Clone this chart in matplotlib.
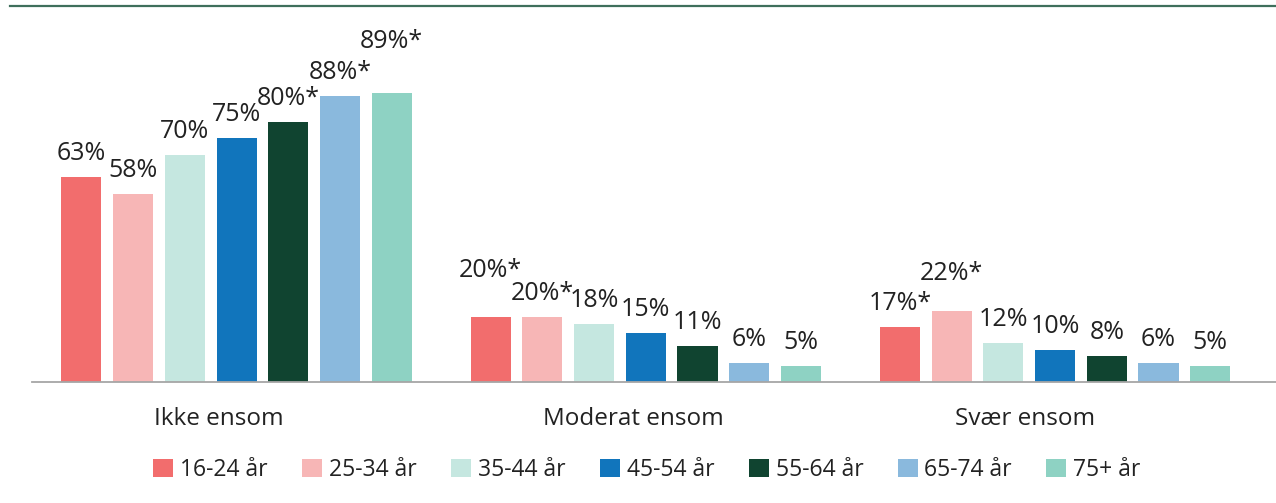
import matplotlib
matplotlib.use("Agg")
import matplotlib.pyplot as plt
from matplotlib.lines import Line2D
from matplotlib.patches import Patch
import numpy as np

plt.rcParams["font.family"] = ["Open Sans", "DejaVu Sans"]

categories = ["Ikke ensom", "Moderat ensom", "Svær ensom"]
age_groups = ["16-24 år", "25-34 år", "35-44 år", "45-54 år", "55-64 år", "65-74 år", "75+ år"]
# values per age group, one entry per category
v_16_24 = [63, 20, 17]
v_25_34 = [58, 20, 22]
v_35_44 = [70, 18, 12]
v_45_54 = [75, 15, 10]
v_55_64 = [80, 11, 8]
v_65_74 = [88, 6, 6]
v_75p = [89, 5, 5]
# significance marks (*)
star_16_24 = [False, True, True]
star_25_34 = [False, True, True]
star_35_44 = [False, False, False]
star_45_54 = [False, False, False]
star_55_64 = [True, False, False]
star_65_74 = [True, False, False]
star_75p = [True, False, False]

series = [v_16_24, v_25_34, v_35_44, v_45_54, v_55_64, v_65_74, v_75p]
stars = [star_16_24, star_25_34, star_35_44, star_45_54, star_55_64, star_65_74, star_75p]
colors = ["#f26d6d", "#f7b6b6", "#c5e7e0", "#1175bc", "#104430", "#8ab9dd", "#8ed2c3"]

# extra lift (px) for labels pushed up to avoid overlapping neighbours
extra_lift = {(6, 0): 28, (0, 1): 23, (1, 2): 14}
# category labels sit a bit left of the group centre in the original (px)
cat_dx = [-18, -12, -30]

W, H = 1276, 503
fig = plt.figure(figsize=(W / 100, H / 100), dpi=100)
ax = fig.add_axes([32 / W, (H - 382) / H, (1276 - 32) / W, (382 - 57.3) / H])

x = np.arange(len(categories))
pitch, bw = 0.1264, 0.098
for j, (vals, st, c) in enumerate(zip(series, stars, colors)):
    xs = x + (j - 3) * pitch
    ax.bar(xs, vals, width=bw, color=c, edgecolor="none")
    for i, (xv, v, s) in enumerate(zip(xs, vals, st)):
        lift = 17 + extra_lift.get((j, i), 0)
        ax.annotate(f"{v}%" + ("*" if s else ""), (xv, v), xytext=(0, lift * 0.72),
                    textcoords="offset points", ha="center", va="baseline",
                    fontsize=18, color="#222222")

ax.set_xlim(-0.5, 2.54)
ax.set_ylim(0, 100)
ax.set_yticks([])
ax.set_xticks([])
for xi, name, dx in zip(x, categories, cat_dx):
    ax.annotate(name, (xi, 0), xytext=(dx * 0.72, -25 * 0.72), textcoords="offset points",
                ha="center", va="top", fontsize=17.5, color="#222222", annotation_clip=False)
for s in ["top", "left", "right"]:
    ax.spines[s].set_visible(False)
ax.spines["bottom"].set_color("#a6a6a6")
ax.spines["bottom"].set_linewidth(1.3)

fig.add_artist(Line2D([10 / W, 1.0], [1 - 5.5 / H] * 2, color="#3f6f5c", lw=1.6))

handles = [Patch(facecolor=c, edgecolor="none") for c in colors]
fig.legend(handles, age_groups, loc="center", bbox_to_anchor=(647 / W, 1 - 470 / H),
           ncol=7, frameon=False, fontsize=16.5, handlelength=0.87, handleheight=0.87,
           handletextpad=0.3, columnspacing=1.5, labelcolor="#222222")

fig.savefig("out.png", dpi=100)
